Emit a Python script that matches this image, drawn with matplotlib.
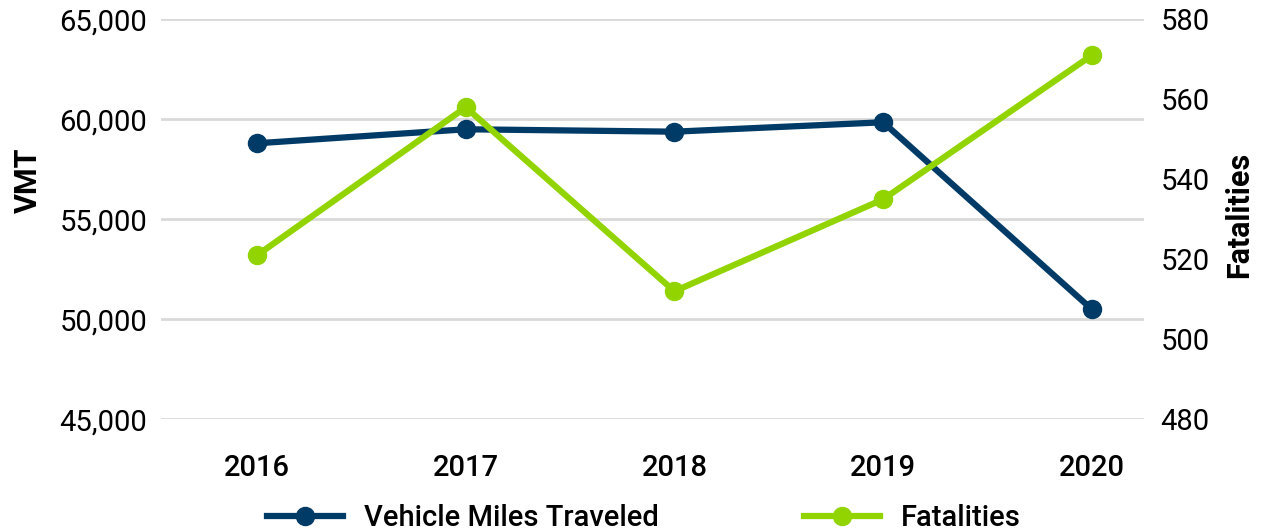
import matplotlib
matplotlib.use("Agg")
import matplotlib.pyplot as plt
from matplotlib.ticker import FuncFormatter

plt.rcParams["font.family"] = ["Roboto", "DejaVu Sans"]

# Veri
years = ["2016", "2017", "2018", "2019", "2020"]
vmt = [58800, 59500, 59380, 59850, 50500]
fatalities = [521, 558, 512, 535, 571]

NAVY = "#003A66"
GREEN = "#92D400"
GRID = "#D9D9D9"
FS = 21

fig = plt.figure(figsize=(12.7, 5.31), dpi=100)
ax = fig.add_axes([0.1268, 0.2104, 0.9008 - 0.1268, 0.9637 - 0.2104])
ax2 = ax.twinx()

x = list(range(len(years)))
l1, = ax.plot(x, vmt, "o-", color=NAVY, lw=4.5, ms=13, label="Vehicle Miles Traveled")
l2, = ax2.plot(x, fatalities, "o-", color=GREEN, lw=4.5, ms=13, label="Fatalities")

ax.set_xlim(-0.46, 4.25)
ax.set_ylim(45000, 65000)
ax.set_yticks([45000, 50000, 55000, 60000, 65000])
ax.yaxis.set_major_formatter(FuncFormatter(lambda v, p: f"{v:,.0f}"))
ax2.set_ylim(480, 580)
ax2.set_yticks([480, 500, 520, 540, 560, 580])

ax.set_xticks(x)
ax.set_xticklabels(years, fontsize=FS, fontweight="medium")
ax.tick_params(axis="y", labelsize=FS, length=0, pad=10)
ax.tick_params(axis="x", length=0, pad=25)
ax2.tick_params(axis="y", labelsize=FS, length=0, pad=12)

ax.grid(axis="y", color=GRID, lw=2)
ax.set_axisbelow(True)
for a in (ax, ax2):
    for s in a.spines.values():
        s.set_visible(False)

fig.text(0.022, 0.66, "VMT", rotation=90, fontsize=22, fontweight="bold",
         ha="center", va="center")
fig.text(0.976, 0.595, "Fatalities", rotation=90, fontsize=22, fontweight="bold",
         ha="center", va="center")

fig.legend(handles=[l1, l2], loc="center", bbox_to_anchor=(0.507, 0.024),
           ncol=2, frameon=False, handlelength=2.6,
           columnspacing=5.0, handletextpad=0.7,
           prop={"size": FS, "weight": "medium"})

fig.savefig("out.png", dpi=100)
